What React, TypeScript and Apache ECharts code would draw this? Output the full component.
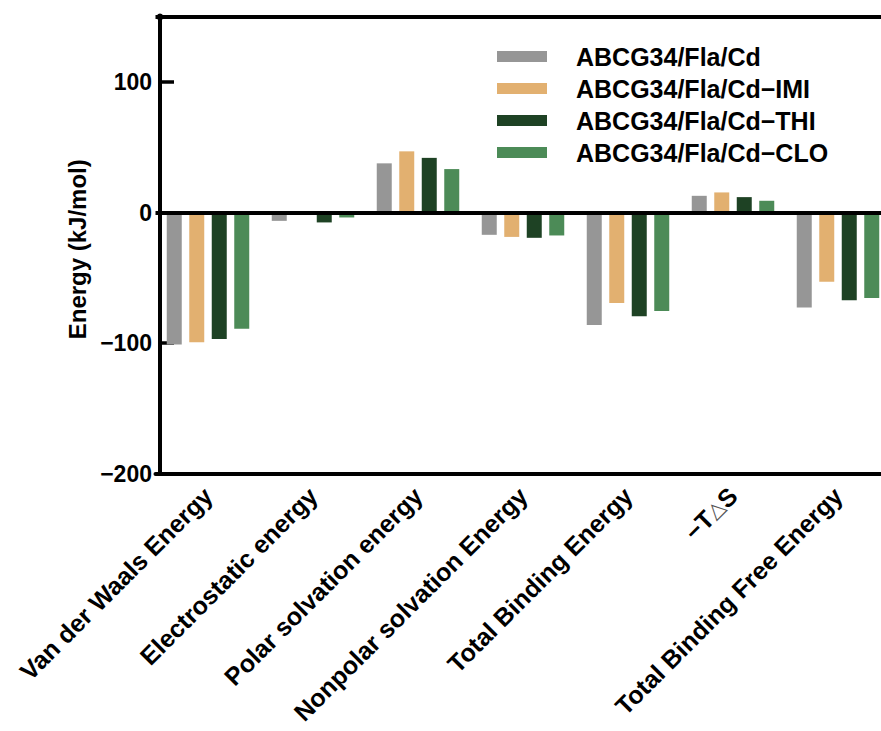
import React, { useEffect, useRef } from "react";
import * as echarts from "echarts";

// Energy terms (x categories)
const categories = [
  "Van der Waals Energy",
  "Electrostatic energy",
  "Polar solvation energy",
  "Nonpolar solvation Energy",
  "Total Binding Energy",
  "−T△S",
  "Total Binding Free Energy",
];

// Series names
const seriesNames = [
  "ABCG34/Fla/Cd",
  "ABCG34/Fla/Cd−IMI",
  "ABCG34/Fla/Cd−THI",
  "ABCG34/Fla/Cd−CLO",
];

// Energy values (kJ/mol) per system
const cdValues = [-101, -6.3, 37.8, -17, -86.1, 12.9, -72.8];
const imiValues = [-99.4, -1, 47, -18.6, -69.2, 15.5, -53];
const thiValues = [-96.8, -7.5, 42, -19.3, -79.4, 11.9, -67.2];
const cloValues = [-89.1, -3.7, 33.4, -17.5, -75.4, 9.1, -65.4];

const seriesColors = ["#969696", "#E2B070", "#1E4224", "#4C8B57"];

// Y axis settings
const yMin = -200;
const yMax = 150;
const yInterval = 100;

const FONT = "'Liberation Sans', Arial, sans-serif";

export default function App() {
  const ref = useRef<HTMLDivElement>(null);

  useEffect(() => {
    if (!ref.current) return;
    const chart = echarts.init(ref.current, undefined, { renderer: "svg" });
    const allValues = [cdValues, imiValues, thiValues, cloValues];

    const series: any[] = allValues.map((vals, i) => ({
      name: seriesNames[i],
      type: "bar",
      data: vals,
      barWidth: 15,
      barGap: "50%",
      itemStyle: { color: seriesColors[i] },
      silent: true,
    }));

    // zero line and top frame line
    series[3].markLine = {
      silent: true,
      symbol: ["none", "none"],
      label: { show: false },
      lineStyle: { color: "#000", width: 4, type: "solid" },
      data: [{ yAxis: 0 }, { yAxis: yMax }],
    };

    chart.setOption({
      animation: false,
      backgroundColor: "#fff",
      grid: {
        left: 155.5,
        top: 17,
        width: 735,
        height: 456.5,
        containLabel: false,
        outerBoundsMode: "none",
      },
      legend: {
        orient: "vertical",
        left: 497,
        top: 44,
        padding: 0,
        itemWidth: 50,
        itemHeight: 11,
        itemGap: 7,
        icon: "rect",
        data: seriesNames,
        textStyle: {
          fontFamily: FONT,
          fontWeight: "bold",
          fontSize: 25,
          lineHeight: 24,
          color: "#000",
          padding: [0, 0, 0, 24],
        },
      },
      xAxis: {
        type: "category",
        data: categories,
        position: "bottom",
        axisLine: { onZero: false, lineStyle: { color: "#000", width: 4 } },
        axisTick: {
          inside: true,
          alignWithLabel: true,
          length: 15,
          lineStyle: { color: "#000", width: 3.5 },
        },
        axisLabel: {
          rotate: 45,
          margin: 18,
          interval: 0,
          color: "#000",
          fontFamily: FONT,
          fontWeight: "bold",
          fontSize: 25,
          formatter: (v: string) =>
            v.includes("△") ? v.replace("△", "{tri|△}") : v,
          rich: {
            tri: {
              fontFamily: "'DejaVu Sans', sans-serif",
              fontWeight: "normal",
              fontSize: 21,
              color: "#555",
            },
          },
        },
      },
      yAxis: {
        type: "value",
        min: yMin,
        max: yMax,
        interval: yInterval,
        offset: -4.5,
        name: "Energy (kJ/mol)",
        nameLocation: "middle",
        nameRotate: 90,
        nameGap: 69,
        nameTextStyle: {
          fontFamily: FONT,
          fontWeight: "bold",
          fontSize: 24,
          color: "#000",
          padding: [0, 8, 0, 0],
        },
        axisLine: {
          show: true,
          symbol: ["none", "circle"],
          symbolSize: [7, 7],
          lineStyle: { color: "#000", width: 4 },
        },
        axisTick: {
          show: true,
          inside: true,
          length: 14,
          lineStyle: { color: "#000", width: 3.5 },
        },
        splitLine: { show: false },
        axisLabel: {
          margin: 8,
          showMaxLabel: false,
          color: "#000",
          fontFamily: FONT,
          fontWeight: "bold",
          fontSize: 23,
          formatter: (v: number) =>
            v === yMax ? "" : v < 0 ? "−" + Math.abs(v) : String(v),
        },
      },
      series,
    });

    return () => chart.dispose();
  }, []);

  return (
    <div
      ref={ref}
      style={{ position: "fixed", left: 0, top: 0, width: 881, height: 731 }}
    />
  );
}
